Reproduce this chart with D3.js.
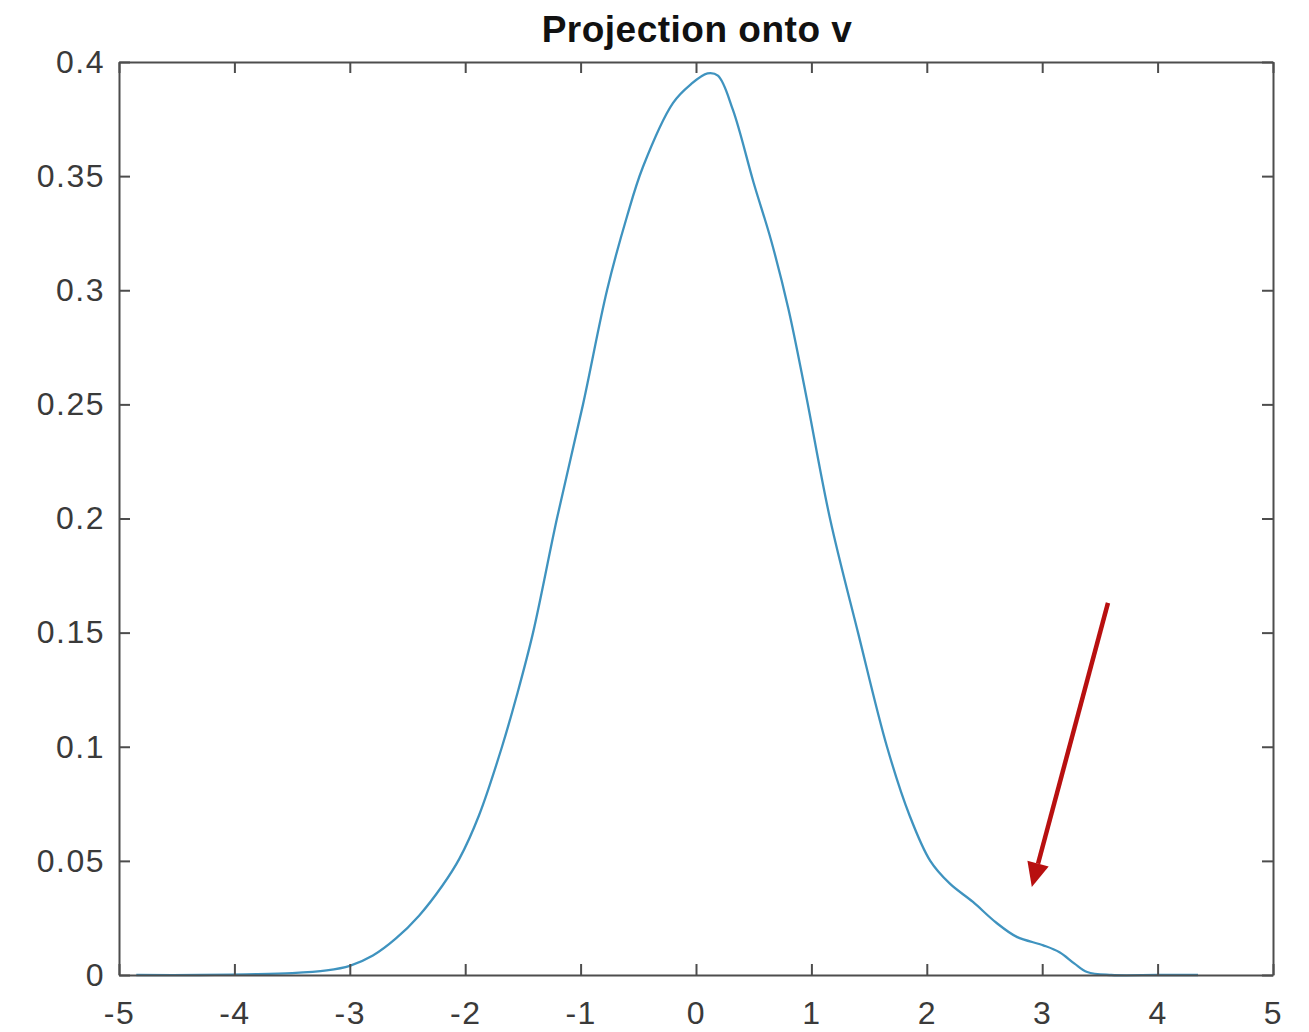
<!DOCTYPE html>
<html>
<head>
<meta charset="utf-8">
<script src="https://cdn.jsdelivr.net/npm/d3@7"></script>
<style>
  body { margin: 0; background: #fff; }
  svg { display: block; }
  text { font-family: "Liberation Sans", Arial, sans-serif; }
</style>
</head>
<body>
<svg width="1309" height="1032"></svg>
<script>
// density curve
var xs = [-4.85, -4.3, -3.9, -3.5, -3.2, -3.0, -2.8, -2.6, -2.4, -2.2, -2.05, -1.88, -1.681, -1.55, -1.412,
          -1.205, -0.979, -0.771, -0.6, -0.46, -0.2, -0.05, 0.1, 0.19, 0.32, 0.5, 0.65, 0.8, 0.95, 1.161,
          1.404, 1.655, 1.85, 2.03, 2.2, 2.4, 2.6, 2.78, 3.01, 3.15, 3.28, 3.39, 3.6, 4.0, 4.35];
var ys = [0, 0, 0.0003, 0.0008, 0.002, 0.004, 0.0085, 0.016, 0.026, 0.039, 0.051, 0.07, 0.1, 0.123, 0.15,
          0.2, 0.25, 0.3, 0.332, 0.354, 0.382, 0.390, 0.395, 0.394, 0.379, 0.347, 0.322, 0.292, 0.255, 0.2,
          0.15, 0.1, 0.07, 0.05, 0.04, 0.032, 0.023, 0.0167, 0.013, 0.010, 0.005, 0.0013, 0, 0, 0];
var xTicks = [-5, -4, -3, -2, -1, 0, 1, 2, 3, 4, 5];
var yTicks = [0, 0.05, 0.1, 0.15, 0.2, 0.25, 0.3, 0.35, 0.4];
var titleText = "Projection onto v";
// arrow annotation, data coords [from, to]
var arrowFrom = [3.57, 0.163];
var arrowTo = [2.91, 0.0386];

var svg = d3.select("svg");
var plotL = 119, plotR = 1273, plotT = 62, plotB = 975;

var x = d3.scaleLinear().domain([-5, 5]).range([plotL, plotR]);
var y = d3.scaleLinear().domain([0, 0.4]).range([plotB, plotT]);

var axisColor = "#4d4d4d";
var tickFont = 32;

// curve
var pts = xs.map(function(d, i) { return [d, ys[i]]; });
var line = d3.line()
    .x(function(d) { return x(d[0]); })
    .y(function(d) { return Math.min(y(d[1]), plotB); })
    .curve(d3.curveCatmullRom.alpha(0.5));

svg.append("path")
    .datum(pts)
    .attr("d", line)
    .attr("fill", "none")
    .attr("stroke", "#3f93bf")
    .attr("stroke-width", 2.3);

// box axes with inward ticks
function styleAxis(g) {
    g.select(".domain").attr("stroke", axisColor).attr("stroke-width", 2);
    g.selectAll(".tick line").attr("stroke", axisColor).attr("stroke-width", 2);
    g.selectAll(".tick text")
        .attr("fill", "#3a3a3a")
        .style("font-size", tickFont + "px")
        .style("letter-spacing", "1.5px")
        .style("font-family", "'Liberation Sans', Arial, sans-serif");
}

svg.append("g")
    .attr("transform", "translate(0," + plotB + ")")
    .call(d3.axisBottom(x).tickValues(xTicks).tickSizeInner(-11).tickSizeOuter(0).tickPadding(26)
        .tickFormat(function(d) { return String(d); }))
    .call(styleAxis);

svg.append("g")
    .attr("transform", "translate(0," + plotT + ")")
    .call(d3.axisTop(x).tickValues(xTicks).tickSizeInner(-11).tickSizeOuter(0).tickFormat(""))
    .call(styleAxis);

svg.append("g")
    .attr("transform", "translate(" + plotL + ",0)")
    .call(d3.axisLeft(y).tickValues(yTicks).tickSizeInner(-11).tickSizeOuter(0).tickPadding(14)
        .tickFormat(function(d) { return d === 0 ? "0" : String(+d.toFixed(2)); }))
    .call(styleAxis);

svg.append("g")
    .attr("transform", "translate(" + plotR + ",0)")
    .call(d3.axisRight(y).tickValues(yTicks).tickSizeInner(-11).tickSizeOuter(0).tickFormat(""))
    .call(styleAxis);

// title
svg.append("text")
    .attr("x", 697)
    .attr("y", 42)
    .attr("text-anchor", "middle")
    .attr("fill", "#111")
    .style("font-size", "37px")
    .style("font-weight", "bold")
    .style("letter-spacing", "0.5px")
    .text(titleText);

// red arrow
var arrowColor = "#b81010";
var x1 = x(arrowFrom[0]), y1 = y(arrowFrom[1]), x2 = x(arrowTo[0]), y2 = y(arrowTo[1]);
var ang = Math.atan2(y2 - y1, x2 - x1);
var headLen = 24, headHalf = 11;
var bx = x2 - headLen * Math.cos(ang), by = y2 - headLen * Math.sin(ang);
svg.append("line")
    .attr("x1", x1).attr("y1", y1).attr("x2", bx).attr("y2", by)
    .attr("stroke", arrowColor).attr("stroke-width", 4.5);
svg.append("path")
    .attr("d", "M" + x2 + "," + y2 +
        "L" + (bx + headHalf * Math.sin(ang)) + "," + (by - headHalf * Math.cos(ang)) +
        "L" + (bx - headHalf * Math.sin(ang)) + "," + (by + headHalf * Math.cos(ang)) + "Z")
    .attr("fill", arrowColor);
</script>
</body>
</html>
